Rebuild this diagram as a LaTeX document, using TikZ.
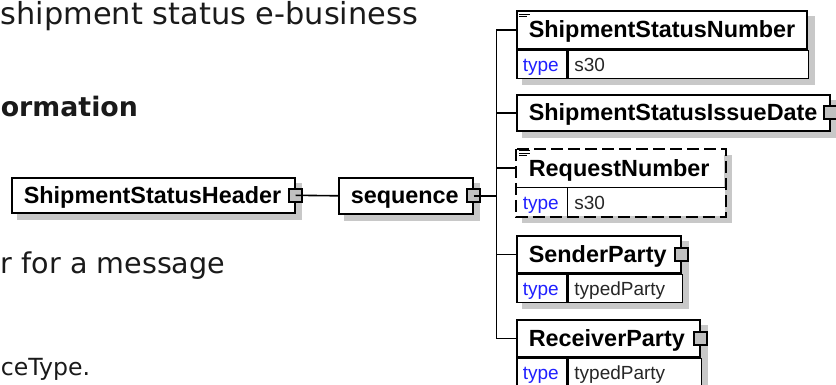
\documentclass[tikz,border=0pt]{standalone}
\usepackage{fontspec}
\setmainfont{DejaVu Sans}
\newfontfamily\xsdfont{Liberation Sans}
\usetikzlibrary{positioning,calc,backgrounds}

\definecolor{shadowgray}{HTML}{C8C8C8}
\definecolor{expgray}{HTML}{C0C0C0}
\definecolor{typeblue}{HTML}{2020FF}
\definecolor{bodytext}{HTML}{1A1A1A}

\tikzset{
  ename/.style={draw, fill=white, anchor=north west, font=\xsdfont\bfseries\fontsize{11.7}{12}\selectfont,
    minimum height=18.5pt, inner xsep=6pt, inner ysep=0pt, align=left,
    text height=0.9em, text depth=0.12em},
  tlabel/.style={draw, fill=white, anchor=north west, font=\xsdfont\fontsize{9.5}{10}\selectfont,
    text=typeblue, minimum width=25pt, minimum height=14pt, inner xsep=3pt, inner ysep=0pt,
    align=left, text width=19pt, text height=0.85em, text depth=0.15em},
  tvalue/.style={tlabel, text=black!85},
  expbox/.style={draw, fill=expgray, minimum size=6.5pt, inner sep=0pt},
  shadow/.style={fill=shadowgray},
  conn/.style={draw, line width=0.8pt},
  docmark/.style={line width=0.5pt},
  pagetext/.style={anchor=base west, inner sep=0pt, text=bodytext}
}

\begin{document}
\begin{tikzpicture}[x=0.5pt, y=-0.5pt, line width=0.8pt]
  \useasboundingbox (0,0) rectangle (836,385);

  % page text behind the diagram
  \node[pagetext, font=\fontsize{15.2}{18}\selectfont] (txta) at (0,25) {shipment status e-business};
  \node[pagetext, font=\bfseries\fontsize{13.4}{16}\selectfont] (txtb) at (0,117) {ormation};
  \node[pagetext, font=\fontsize{14.3}{17}\selectfont] (txtc) at (0,273) {r for a message};
  \node[pagetext, font=\fontsize{11.8}{14}\selectfont] (txtd) at (0,375) {ceType.};

  % root element and compositor
  \node[ename, minimum height=17.5pt, text width=129.5pt] (hdr) at (11,177) {ShipmentStatusHeader};
  \node[ename, minimum height=18pt, text width=55pt] (seq) at (338,177) {sequence};

  % child elements
  \node[ename, minimum height=19pt, text width=133pt] (ssn) at (516,10) {ShipmentStatusNumber};
  \node[tlabel] (ssnt) at (ssn.south west) {type};
  \node[tvalue, minimum width=120pt, text width=114pt] (ssnv) at (ssnt.north east) {s30};

  \node[ename, minimum height=18pt, text width=144.5pt] (ssid) at (516,94) {ShipmentStatusIssueDate};

  \node[ename, draw=none, text width=91.5pt] (rn) at (516,149) {RequestNumber};
  \node[tlabel, draw=none] (rnt) at (rn.south west) {type};
  \node[tvalue, draw=none, minimum width=78.5pt, text width=72.5pt] (rnv) at (rnt.north east) {s30};
  \draw[dash pattern=on 6pt off 2.5pt] (rn.north west) rectangle (rnv.south east);
  \draw (rn.south west) -- (rn.south east);
  \draw (rnt.north east) -- (rnt.south east);

  \node[ename, text width=70pt] (sp) at (516,235) {SenderParty};
  \node[tlabel] (spt) at (sp.south west) {type};
  \node[tvalue, minimum width=57pt, text width=51pt] (spv) at (spt.north east) {typedParty};

  \node[ename, text width=79.5pt] (rp) at (516,319) {ReceiverParty};
  \node[tlabel] (rpt) at (rp.south west) {type};
  \node[tvalue, minimum width=66.5pt, text width=60.5pt] (rpv) at (rpt.north east) {typedParty};

  % drop shadows
  \begin{scope}[on background layer]
    \foreach \a/\b in {hdr/hdr, seq/seq, ssn/ssnv, ssid/ssid, rn/rnv, sp/spv, rp/rpv}
      \fill[shadow] ($(\a.north west)+(6,6)$) rectangle ($(\b.south east)+(6,6)$);
  \end{scope}

  % documentation marks
  \foreach \e in {ssn, rn}
    \foreach \dy/\len in {2/11, 4.5/11, 7/8}
      \draw[docmark] ($(\e.north west)+(3,\dy)$) -- ++(\len,0);

  % expand boxes
  \node[expbox] (hdrx) at (hdr.east) {};
  \node[expbox] (seqx) at (seq.east) {};
  \node[expbox] (ssidx) at (ssid.east) {};
  \node[expbox] (spx) at (sp.east) {};
  \node[expbox] (rpx) at (rp.east) {};

  % connectors
  \coordinate (trunk) at ($(seqx.center)+(23,0)$);
  \draw[conn] (hdrx.center) -- (seq.west);
  \draw[conn] (seqx.center) -- (trunk);
  \foreach \c in {ssn, ssid, rn, sp, rp}
    \draw[conn] (\c.west) -| (trunk);
\end{tikzpicture}
\end{document}
